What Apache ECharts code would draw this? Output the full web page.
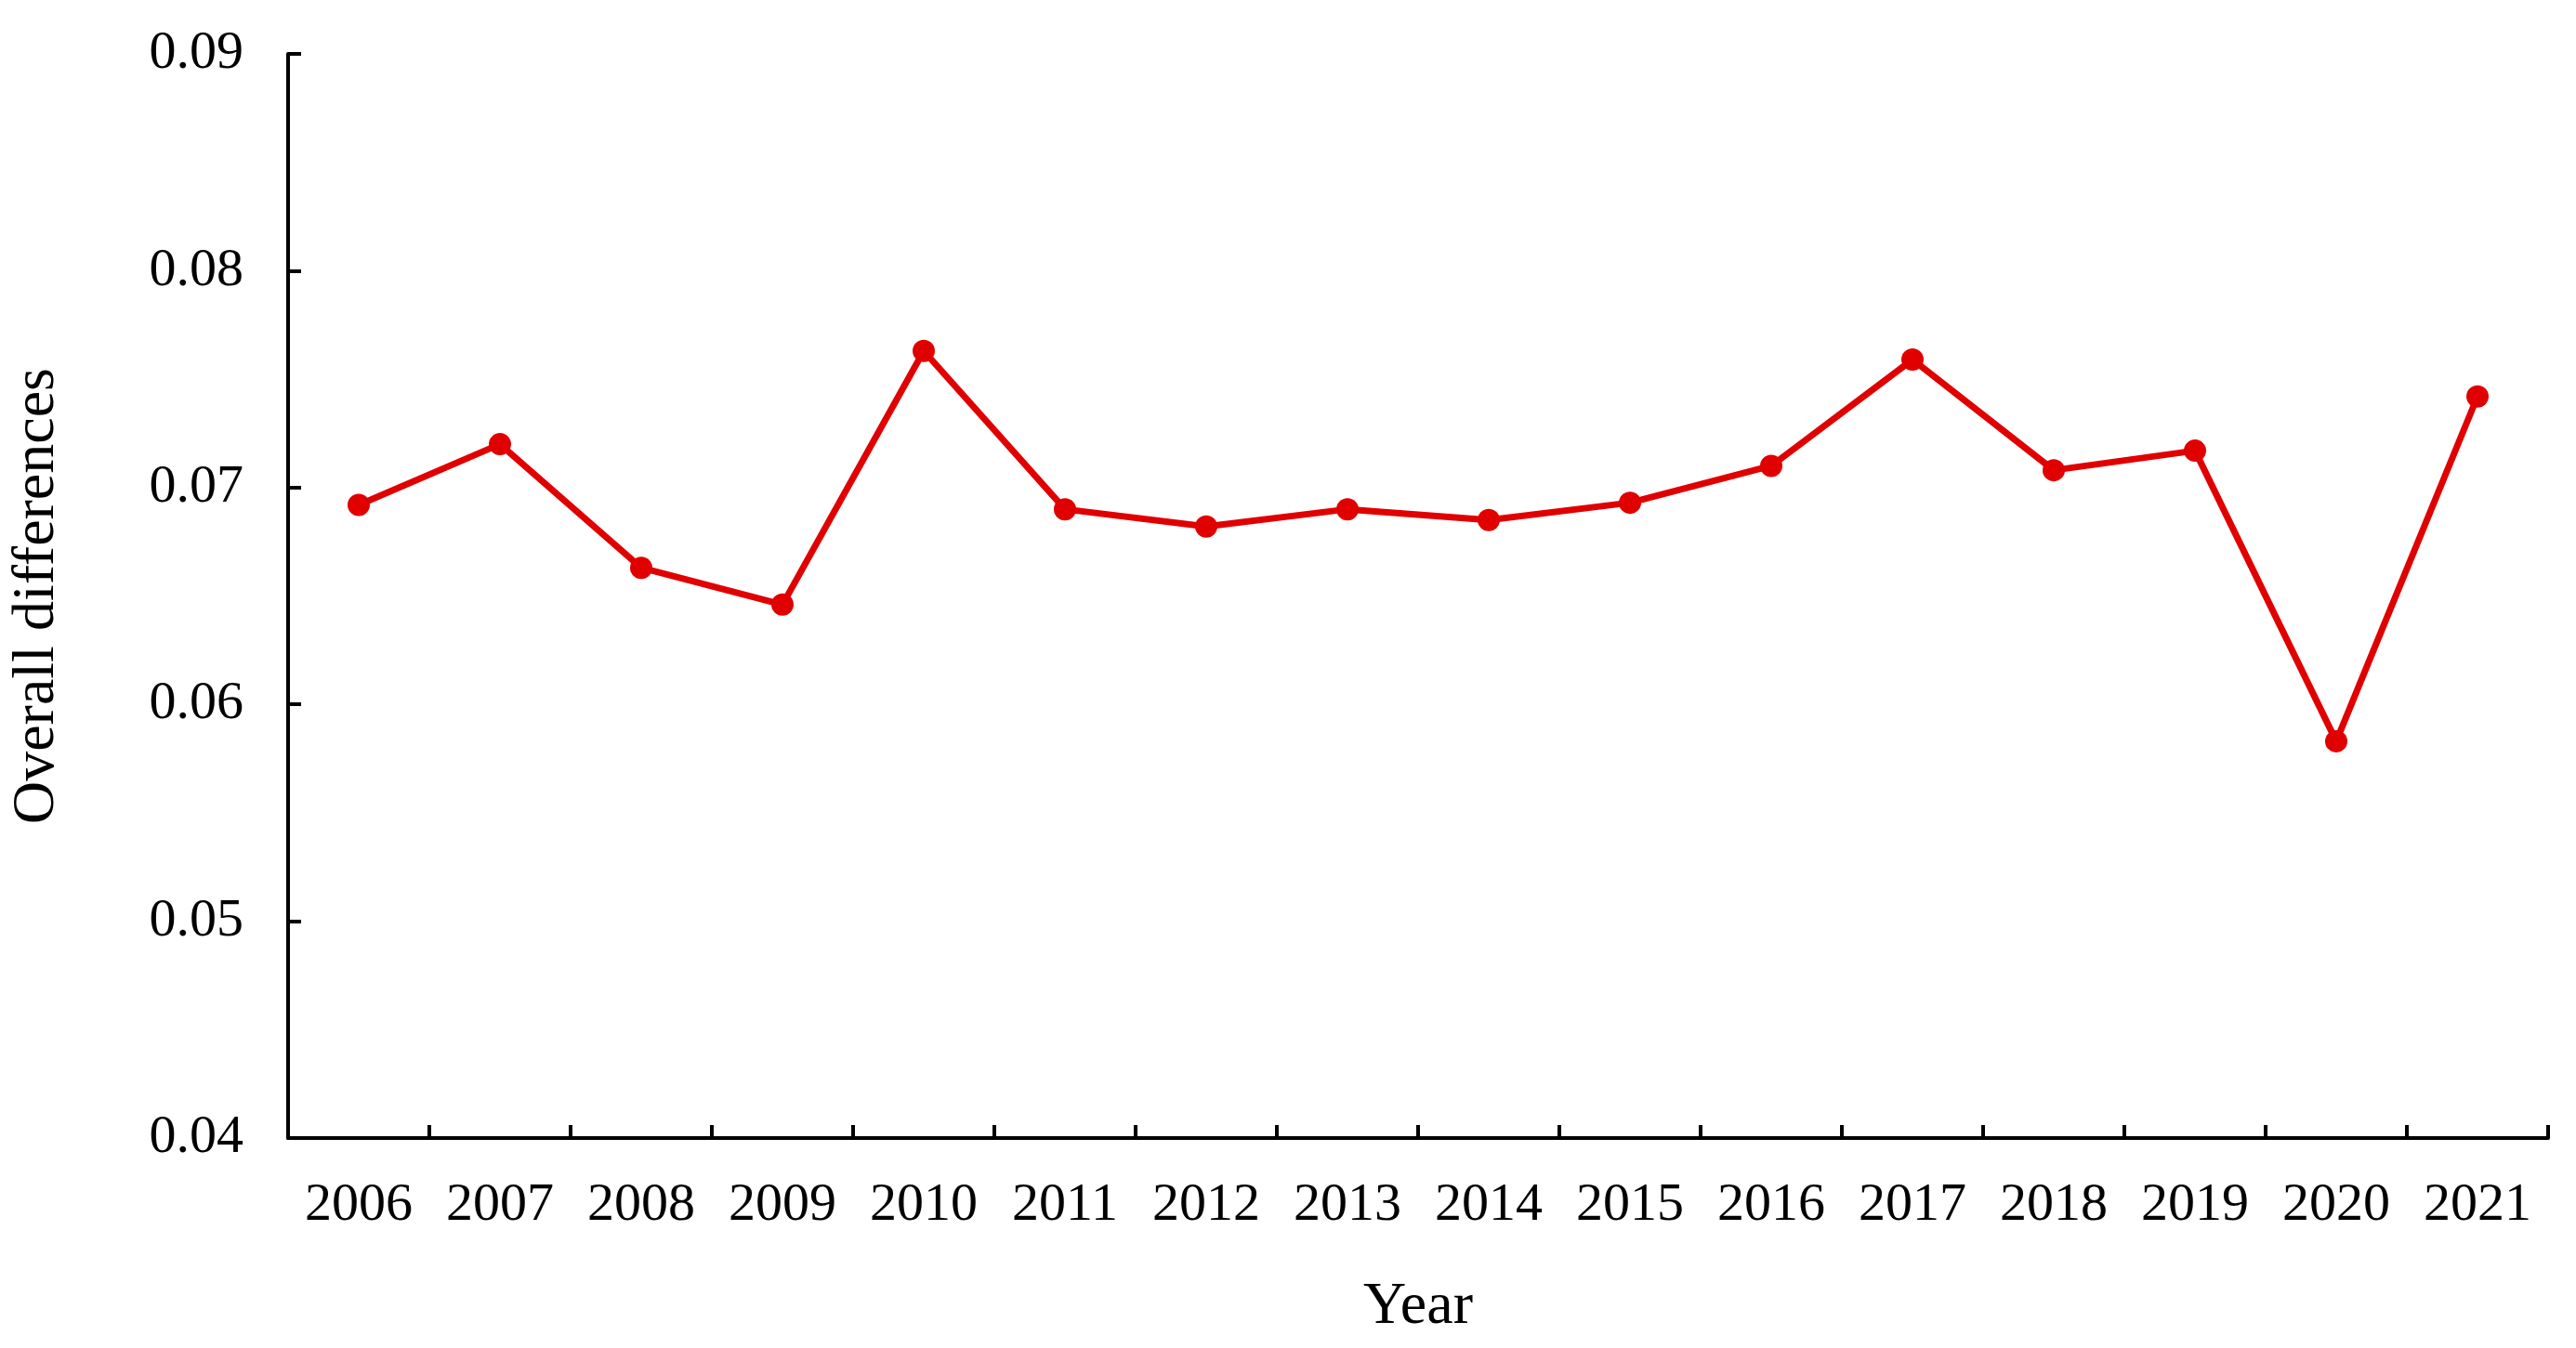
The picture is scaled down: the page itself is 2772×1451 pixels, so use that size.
<!DOCTYPE html>
<html><head><meta charset="utf-8">
<script src="https://cdn.jsdelivr.net/npm/echarts@6/dist/echarts.min.js"></script>
<style>html,body{margin:0;padding:0;background:#fff}#c{width:2772px;height:1451px}</style>
</head><body><div id="c"></div>
<script>
const years = ['2006','2007','2008','2009','2010','2011','2012','2013','2014','2015','2016','2017','2018','2019','2020','2021'];
const values = [0.0692,0.0720,0.0663,0.0646,0.0763,0.0690,0.0682,0.0690,0.0685,0.0693,0.0710,0.0759,0.0708,0.0717,0.0583,0.0742];
const font = 'Liberation Serif';
const chart = echarts.init(document.getElementById('c'));
chart.setOption({
  animation:false,
  grid:{left:293,right:30,top:58,bottom:226},
  xAxis:{type:'category',data:years,boundaryGap:true,
    name:'Year',nameLocation:'middle',nameGap:150,
    nameTextStyle:{fontFamily:font,fontSize:64,color:'#000'},
    axisLine:{lineStyle:{color:'#000',width:4}},
    axisTick:{show:true,inside:true,length:14,lineStyle:{color:'#000',width:4}},
    axisLabel:{fontFamily:font,fontSize:58,color:'#000',margin:44}},
  yAxis:{type:'value',min:0.04,max:0.09,interval:0.01,
    name:'Overall differences',nameLocation:'middle',nameGap:238,
    nameTextStyle:{fontFamily:font,fontSize:64,color:'#000'},
    axisLine:{show:true,lineStyle:{color:'#000',width:4}},
    axisTick:{show:true,inside:true,length:14,lineStyle:{color:'#000',width:4}},
    splitLine:{show:false},
    axisLabel:{fontFamily:font,fontSize:58,color:'#000',margin:48,formatter:v=>v.toFixed(2)}},
  series:[{type:'line',data:values,symbol:'circle',symbolSize:24,
    lineStyle:{color:'#e00000',width:7},itemStyle:{color:'#e00000'}}]
});
</script></body></html>
